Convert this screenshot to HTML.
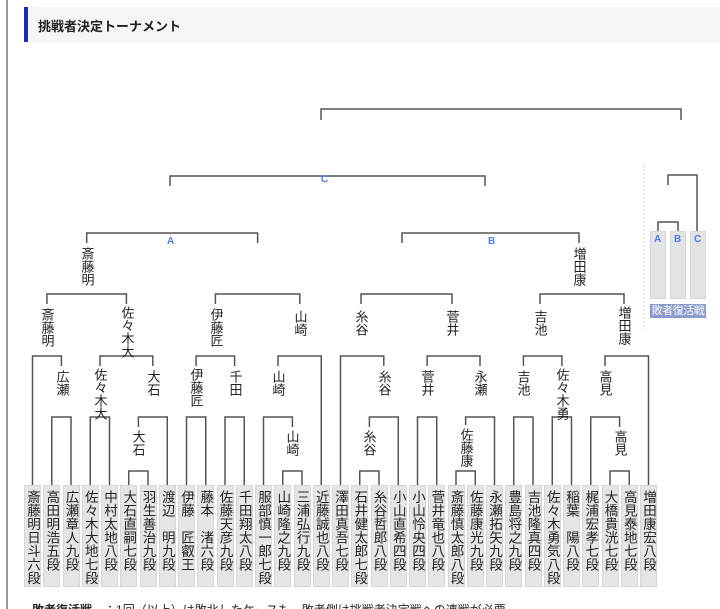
<!DOCTYPE html>
<html><head><meta charset="utf-8"><style>
html,body{margin:0;padding:0;background:#fff;width:720px;height:609px;overflow:hidden;position:relative;font-family:"Liberation Sans","Noto Sans CJK JP",sans-serif;}
.border{position:absolute;left:6px;top:0;width:2px;height:609px;background:#999;}
.title{position:absolute;left:24px;top:7px;width:696px;height:35px;background:#f5f5f5;border-left:4px solid #1a2fb0;box-sizing:border-box;}
.title span{position:absolute;left:10px;top:9px;font-size:13px;font-weight:bold;color:#222;}
.box{position:absolute;top:485px;width:17px;height:102px;background:#e5e5e5;border:1px solid #d6d6d6;box-sizing:border-box;writing-mode:vertical-rl;font-size:13.5px;line-height:15px;color:#222;padding-top:4px;text-align:start;}
.lb{position:absolute;writing-mode:vertical-rl;font-size:13px;line-height:15px;color:#222;width:15px;margin-left:-7.5px;}
.abc{position:absolute;font-size:10px;color:#4a7ff0;font-weight:bold;}
.lbox{position:absolute;top:231px;width:16px;height:68px;background:#e3e3e3;border:1px solid #d6d6d6;box-sizing:border-box;}
.loser{position:absolute;left:650px;top:304px;width:56px;height:14px;background:#8c99cf;color:#fff;font-size:11px;line-height:14px;text-align:center;letter-spacing:-0.5px;}
.foot{position:absolute;left:32px;top:601px;font-size:12px;color:#222;white-space:nowrap;}
</style></head><body>
<div class="border"></div>
<div class="title"><span>挑戦者決定トーナメント</span></div>
<svg width="720" height="609" style="position:absolute;left:0;top:0" fill="none" stroke="#555" stroke-width="1.5">
<line x1="644" y1="165" x2="644" y2="330" stroke="#ccc" stroke-width="1" stroke-dasharray="2,2"/>
<path d="M321 120V109H681V120"/>
<path d="M170 186V176H485V186"/>
<path d="M86.7 243V233H257.6V243"/>
<path d="M402 243V233H579V243"/>
<path d="M46.9 304V294H126.4V304"/>
<path d="M215.4 304V294H299.8V304"/>
<path d="M361 304V294H452V304"/>
<path d="M540 304V294H624V304"/>
<path d="M32.5 485V356H61.4V366"/>
<path d="M100 366V356H152.8V366"/>
<path d="M196.1 366V356H234.6V366"/>
<path d="M278 366V356H321.25V485"/>
<path d="M340.5 485V356H383.8V366"/>
<path d="M427.1 366V356H480V366"/>
<path d="M523.4 366V356H561.9V366"/>
<path d="M605 366V356H648.5V485"/>
<path d="M51.75 485V417H71V485"/>
<path d="M90.25 485V417H109.5V485"/>
<path d="M138.4 427V417H167.25V485"/>
<path d="M186.5 485V417H205.75V485"/>
<path d="M225 485V417H244.25V485"/>
<path d="M263.5 485V417H292.4V427"/>
<path d="M369.4 427V417H398.25V485"/>
<path d="M417.5 485V417H436.75V485"/>
<path d="M465.6 425V417H494.5V485"/>
<path d="M513.75 485V417H533V485"/>
<path d="M552.25 485V417H571.5V485"/>
<path d="M590.75 485V417H619.6V427"/>
<path d="M128.75 485V471H148V485"/>
<path d="M282.75 485V471H302V485"/>
<path d="M359.75 485V471H379V485"/>
<path d="M456 485V471H475.25V485"/>
<path d="M610 485V471H629.25V485"/>
<path d="M658 231V222H678V231"/>
<path d="M668 185V175H697V231"/>
</svg>
<div class="abc" style="left:167px;top:236px">A</div>
<div class="abc" style="left:488px;top:236px">B</div>
<div class="abc" style="left:321px;top:174px">C</div>
<div class="lbox" style="left:650px"></div><div class="lbox" style="left:670px"></div><div class="lbox" style="left:690px"></div>
<div class="abc" style="left:654px;top:234px">A</div>
<div class="abc" style="left:674px;top:234px">B</div>
<div class="abc" style="left:694px;top:234px">C</div>
<div class="loser">敗者復活戦</div>

<div class="lb" style="left:87px;top:247px">斎藤明</div>
<div class="lb" style="left:579px;top:247px">増田康</div>
<div class="lb" style="left:47px;top:308px">斎藤明</div>
<div class="lb" style="left:127px;top:306px">佐々木大</div>
<div class="lb" style="left:216px;top:308px">伊藤匠</div>
<div class="lb" style="left:300px;top:310px">山崎</div>
<div class="lb" style="left:361px;top:310px">糸谷</div>
<div class="lb" style="left:452px;top:310px">菅井</div>
<div class="lb" style="left:540px;top:310px">吉池</div>
<div class="lb" style="left:624px;top:306px">増田康</div>
<div class="lb" style="left:62px;top:370px">広瀬</div>
<div class="lb" style="left:100px;top:368px">佐々木大</div>
<div class="lb" style="left:153px;top:370px">大石</div>
<div class="lb" style="left:196px;top:368px">伊藤匠</div>
<div class="lb" style="left:235px;top:370px">千田</div>
<div class="lb" style="left:278px;top:370px">山崎</div>
<div class="lb" style="left:384px;top:370px">糸谷</div>
<div class="lb" style="left:427px;top:370px">菅井</div>
<div class="lb" style="left:480px;top:370px">永瀬</div>
<div class="lb" style="left:523px;top:370px">吉池</div>
<div class="lb" style="left:562px;top:368px">佐々木勇</div>
<div class="lb" style="left:605px;top:370px">高見</div>
<div class="lb" style="left:138px;top:430px">大石</div>
<div class="lb" style="left:292px;top:430px">山崎</div>
<div class="lb" style="left:369px;top:430px">糸谷</div>
<div class="lb" style="left:466px;top:428px">佐藤康</div>
<div class="lb" style="left:620px;top:430px">高見</div>

<div class="box" style="left:24px">斎藤明日斗六段</div>
<div class="box" style="left:43.25px">高田明浩五段</div>
<div class="box" style="left:62.5px">広瀬章人九段</div>
<div class="box" style="left:81.75px">佐々木大地七段</div>
<div class="box" style="left:101px">中村太地八段</div>
<div class="box" style="left:120.25px">大石直嗣七段</div>
<div class="box" style="left:139.5px">羽生善治九段</div>
<div class="box" style="left:158.75px">渡辺　明九段</div>
<div class="box" style="left:178px">伊藤　匠叡王</div>
<div class="box" style="left:197.25px">藤本　渚六段</div>
<div class="box" style="left:216.5px">佐藤天彦九段</div>
<div class="box" style="left:235.75px">千田翔太八段</div>
<div class="box" style="left:255px">服部慎一郎七段</div>
<div class="box" style="left:274.25px">山崎隆之九段</div>
<div class="box" style="left:293.5px">三浦弘行九段</div>
<div class="box" style="left:312.75px">近藤誠也八段</div>
<div class="box" style="left:332px">澤田真吾七段</div>
<div class="box" style="left:351.25px">石井健太郎七段</div>
<div class="box" style="left:370.5px">糸谷哲郎八段</div>
<div class="box" style="left:389.75px">小山直希四段</div>
<div class="box" style="left:409px">小山怜央四段</div>
<div class="box" style="left:428.25px">菅井竜也八段</div>
<div class="box" style="left:447.5px">斎藤慎太郎八段</div>
<div class="box" style="left:466.75px">佐藤康光九段</div>
<div class="box" style="left:486px">永瀬拓矢九段</div>
<div class="box" style="left:505.25px">豊島将之九段</div>
<div class="box" style="left:524.5px">吉池隆真四段</div>
<div class="box" style="left:543.75px">佐々木勇気八段</div>
<div class="box" style="left:563px">稲葉　陽八段</div>
<div class="box" style="left:582.25px">梶浦宏孝七段</div>
<div class="box" style="left:601.5px">大橋貴洸七段</div>
<div class="box" style="left:620.75px">高見泰地七段</div>
<div class="box" style="left:640px">増田康宏八段</div>

<div class="foot"><b>敗者復活戦</b>　：1回（以上）は敗北したケースも、敗者側は挑戦者決定戦への連戦が必要</div>
</body></html>
